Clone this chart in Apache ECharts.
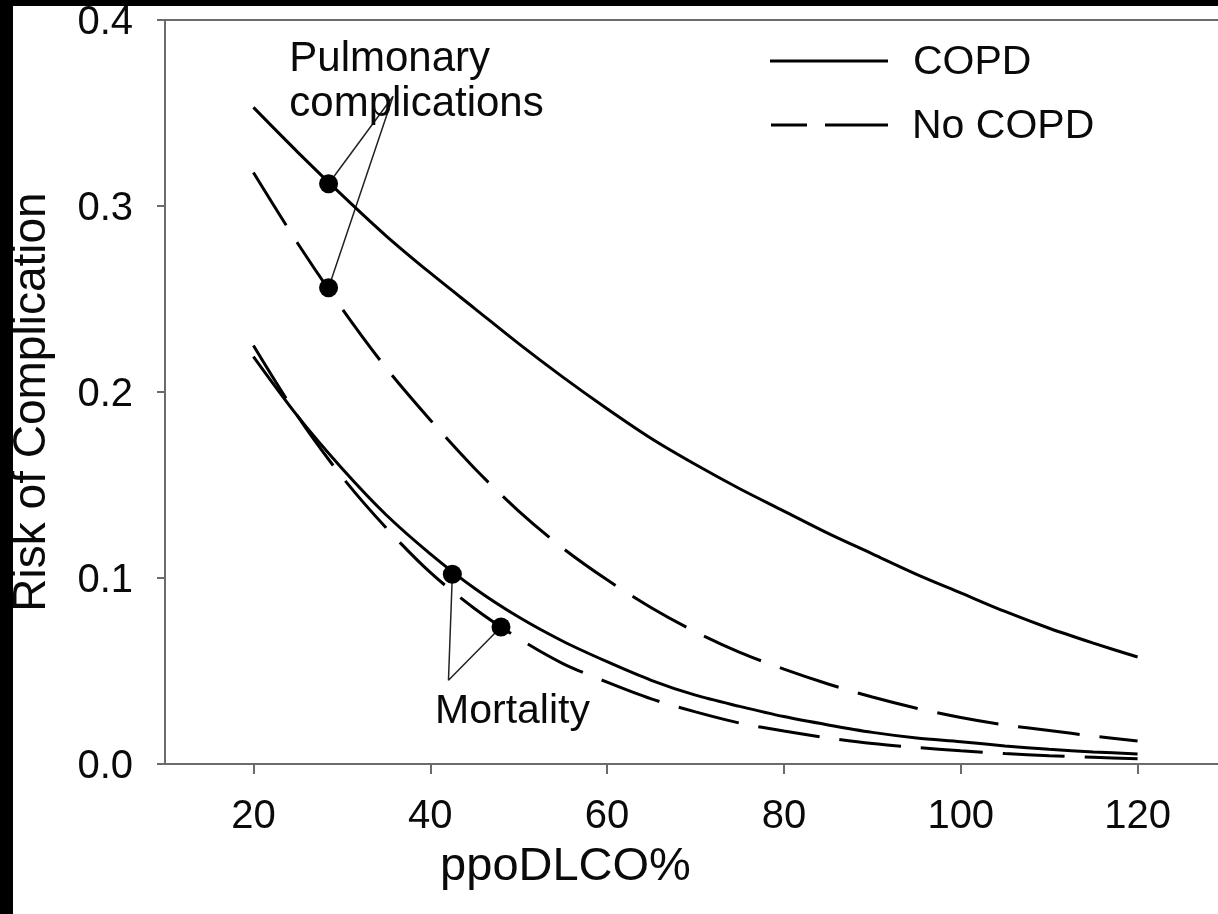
<!DOCTYPE html>
<html>
<head>
<meta charset="utf-8">
<script src="https://cdn.jsdelivr.net/npm/echarts@6/dist/echarts.min.js"></script>
<style>
  html, body { margin: 0; padding: 0; background: #fff; overflow: hidden; width: 1218px; height: 914px; }
  #chart { position: absolute; left: 0; top: 0; width: 1240px; height: 914px; }
</style>
</head>
<body>
<div id="chart"></div>
<script>
// x values (ppoDLCO%)
const xValues = [20, 25, 30, 35, 40, 45, 50, 55, 60, 65, 70, 75, 80, 85, 90, 95, 100, 105, 110, 115, 120];
// Pulmonary complications
const copdPulm   = [0.353, 0.329, 0.306, 0.284, 0.264, 0.245, 0.226, 0.208, 0.191, 0.175, 0.161, 0.148, 0.136, 0.124, 0.113, 0.102, 0.092, 0.082, 0.073, 0.065, 0.0575];
const noCopdPulm = [0.318, 0.280, 0.245, 0.213, 0.185, 0.159, 0.136, 0.116, 0.099, 0.084, 0.071, 0.060, 0.051, 0.043, 0.036, 0.030, 0.025, 0.021, 0.018, 0.015, 0.0124];
// Mortality
const copdMort   = [0.219, 0.187, 0.159, 0.134, 0.113, 0.0945, 0.079, 0.066, 0.055, 0.045, 0.037, 0.031, 0.0255, 0.021, 0.017, 0.014, 0.012, 0.0097, 0.0079, 0.0065, 0.0054];
const noCopdMort = [0.225, 0.187, 0.1545, 0.127, 0.103, 0.0836, 0.0675, 0.054, 0.044, 0.035, 0.028, 0.022, 0.0177, 0.014, 0.011, 0.0089, 0.0071, 0.0056, 0.0045, 0.0036, 0.0028];
// highlighted points [x, y]
const markerPoints = [[28.5, 0.312], [28.5, 0.256], [42.5, 0.102], [48, 0.0737]];
// annotation leader lines: marker -> apex -> marker
const pulmLeader = [[28.5, 0.312], [35.8, 0.359], [28.5, 0.256]];
const mortLeader = [[42.5, 0.102], [42.06, 0.045], [48, 0.0737]];
// annotation labels [x, y, text]
const annotations = [[24.0, 0.3665, 'Pulmonary\ncomplications'], [49.3, 0.028, 'Mortality']];
// legend entries
const legendNames = ['COPD', 'No COPD'];
// axis ticks
const xTicks = [20, 40, 60, 80, 100, 120];
const xMin = 10, xMax = 130;
const yMin = 0, yMax = 0.4, yStep = 0.1;

const pair = (xs, ys) => xs.map((x, i) => [x, ys[i]]);
const FONT = 'Liberation Sans, Arial, sans-serif';
const AXIS_COLOR = '#6b6b6b';
const TEXT = '#0a0a0a';

const curveStyle = (dashed) => ({
  type: 'line', symbol: 'none', smooth: 0.3, silent: true,
  lineStyle: { color: '#000', width: 3, type: dashed ? [62, 20] : 'solid' },
  itemStyle: { color: '#000' }, z: 3
});

const chart = echarts.init(document.getElementById('chart'), null, { renderer: 'canvas' });
chart.setOption({
  animation: false,
  backgroundColor: '#fff',
  textStyle: { fontFamily: FONT },
  grid: { left: 165, top: 20, right: 14, bottom: 150, show: true, borderColor: AXIS_COLOR, borderWidth: 2, backgroundColor: 'transparent' },
  graphic: [
    { type: 'rect', left: 0, top: 0, shape: { width: 13, height: 914 }, style: { fill: '#000' }, z: 100, silent: true },
    { type: 'rect', left: 0, top: 0, shape: { width: 1240, height: 6 }, style: { fill: '#000' }, z: 100, silent: true },
    { type: 'line', shape: { x1: 770, y1: 61, x2: 888, y2: 61 }, style: { stroke: '#000', lineWidth: 3 }, silent: true },
    { type: 'text', left: 913, top: 42, style: { text: legendNames[0], fontSize: 41, fill: TEXT, fontFamily: FONT }, silent: true },
    { type: 'line', shape: { x1: 771, y1: 125, x2: 888, y2: 125 }, style: { stroke: '#000', lineWidth: 3, lineDash: [36, 18, 64, 100] }, silent: true },
    { type: 'text', left: 912, top: 106, style: { text: legendNames[1], fontSize: 41, fill: TEXT, fontFamily: FONT }, silent: true }
  ],
  xAxis: {
    type: 'value', min: xMin, max: xMax,
    name: 'ppoDLCO%', nameLocation: 'middle', nameGap: 80,
    nameTextStyle: { fontSize: 47, color: TEXT, fontFamily: FONT, padding: [0, 260, 0, 0] },
    splitLine: { show: false },
    axisLine: { lineStyle: { color: AXIS_COLOR, width: 2 } },
    axisTick: { show: true, inside: false, length: 10, customValues: xTicks, lineStyle: { color: AXIS_COLOR, width: 2 } },
    axisLabel: { fontSize: 40, color: TEXT, margin: 33, customValues: xTicks, fontFamily: FONT }
  },
  yAxis: {
    type: 'value', min: yMin, max: yMax, interval: yStep,
    name: 'Risk of Complication', nameLocation: 'middle', nameGap: 110,
    nameTextStyle: { fontSize: 46, color: TEXT, fontFamily: FONT, padding: [0, 20, 0, 0] },
    splitLine: { show: false },
    axisLine: { show: true, lineStyle: { color: AXIS_COLOR, width: 2 } },
    axisTick: { show: true, inside: false, length: 8, lineStyle: { color: AXIS_COLOR, width: 2 } },
    axisLabel: { color: TEXT, margin: 32, fontFamily: FONT,
      formatter: v => '{t|' + v.toFixed(1) + '}',
      rich: { t: { fontSize: 40, color: TEXT, fontFamily: FONT, padding: [6, 0, 0, 0] } } }
  },
  series: [
    Object.assign({ name: 'COPD', data: pair(xValues, copdPulm) }, curveStyle(false)),
    Object.assign({ name: 'No COPD', data: pair(xValues, noCopdPulm) }, curveStyle(true)),
    Object.assign({ name: 'COPD', data: pair(xValues, copdMort) }, curveStyle(false)),
    Object.assign({ name: 'No COPD', data: pair(xValues, noCopdMort) }, curveStyle(true)),
    { name: 'pulmLeader', type: 'line', data: pulmLeader, symbol: 'none', silent: true, z: 2,
      lineStyle: { color: '#222', width: 1.5 } },
    { name: 'mortLeader', type: 'line', data: mortLeader, symbol: 'none', silent: true, z: 2,
      lineStyle: { color: '#222', width: 1.5 } },
    { name: 'markers', type: 'scatter', data: markerPoints, symbol: 'circle', symbolSize: 19, silent: true, z: 5,
      itemStyle: { color: '#000', opacity: 1 } },
    { name: 'labels', type: 'scatter', silent: true, symbolSize: 1, itemStyle: { color: 'rgba(0,0,0,0)', opacity: 1 }, z: 6,
      data: annotations.map(a => ({ value: [a[0], a[1]], label: {
        show: true, formatter: a[2], opacity: 1,
        position: a[2] === 'Mortality' ? 'inside' : 'right', distance: 0,
        align: a[2] === 'Mortality' ? 'center' : 'left',
        fontSize: a[2] === 'Mortality' ? 41 : 42, lineHeight: 45, color: TEXT, textBorderWidth: 0, fontFamily: FONT } })) }
  ]
});
</script>
</body>
</html>
